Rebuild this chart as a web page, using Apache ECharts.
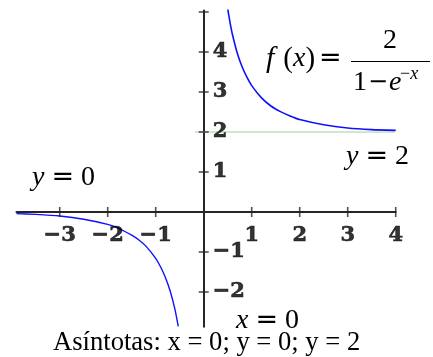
<!DOCTYPE html>
<html>
<head>
<meta charset="utf-8">
<script src="https://cdn.jsdelivr.net/npm/echarts@6/dist/echarts.min.js"></script>
<style>
  html, body { margin: 0; padding: 0; background: #ffffff; }
  #chart { width: 433px; height: 357px; }
</style>
</head>
<body>
<div id="chart"></div>
<script>
// Branch of f(x) for x > 0 (above the asymptote y = 2)
const rightX = [0.5, 0.55, 0.6, 0.7, 0.8, 0.9, 1.0, 1.2, 1.4, 1.6, 1.8, 2.0, 2.5, 3.0, 3.5, 4.0];
const rightY = [5.08, 4.73, 4.43, 3.97, 3.63, 3.37, 3.16, 2.86, 2.65, 2.51, 2.40, 2.31, 2.18, 2.10, 2.06, 2.04];

// Branch of f(x) for x < 0 (below the asymptote y = 0)
const leftX = [-3.9, -3.5, -3.0, -2.5, -2.0, -1.75, -1.5, -1.35, -1.2, -1.0, -0.9, -0.8, -0.7, -0.6, -0.53];
const leftY = [-0.04, -0.06, -0.10, -0.18, -0.31, -0.42, -0.58, -0.70, -0.86, -1.16, -1.37, -1.63, -1.97, -2.43, -2.86];

// Horizontal asymptote y = 2
const asymptoteX = [-0.18, 3.98];
const asymptoteY = [2, 2];

// Axis ranges, tick marks and tick labels
const xRange = [-3.9, 4];
const yRange = [-2.87, 5.04];
const xTickValues = [-3, -2, -1, 1, 2, 3, 4];
const yTickValues = [-2, -1, 1, 2, 3, 4, 5];
const yLabelValues = [-2, -1, 1, 2, 3, 4];

const pairs = (xs, ys) => xs.map((x, i) => [x, ys[i]]);
const minus = v => (v < 0 ? '\u2212' + Math.abs(v) : String(v));

const axisColor = '#262626';
const tickFont = {
  fontFamily: 'DejaVu Serif', fontWeight: 'bold', fontSize: 21, color: '#000',
  textBorderColor: '#000', textBorderWidth: 0.6
};
const serif = '"Liberation Serif"';
const mathRich = {
  i: { fontFamily: 'Liberation Serif', fontStyle: 'italic', fontSize: 28, color: '#000' },
  fi: { fontFamily: 'Liberation Serif', fontStyle: 'italic', fontSize: 30, color: '#000', padding: [0, 9, 0, 0] },
  r: { fontFamily: 'Liberation Serif', fontSize: 28, color: '#000' },
  p: { fontFamily: 'Liberation Serif', fontSize: 29, color: '#000' },
  eq: { fontFamily: 'DejaVu Sans', fontSize: 27, color: '#000', padding: [0, 7, 0, 7] },
  eqf: { fontFamily: 'DejaVu Sans', fontSize: 27, color: '#000', padding: [0, 0, 0, 4] },
  m: { fontFamily: 'DejaVu Sans', fontSize: 24, color: '#000', padding: [0, 1, 0, 1] }
};

const chart = echarts.init(document.getElementById('chart'), null, { renderer: 'canvas' });

chart.setOption({
  backgroundColor: '#ffffff',
  animation: false,
  grid: { left: 16.5, right: 37.3, top: 10.4, bottom: 30.2, containLabel: false },
  xAxis: {
    type: 'value', min: xRange[0], max: xRange[1],
    axisLine: { show: true, onZero: true, lineStyle: { color: axisColor, width: 2 } },
    axisTick: { show: false }, axisLabel: { show: false }, splitLine: { show: false }
  },
  yAxis: {
    type: 'value', min: yRange[0], max: yRange[1],
    axisLine: { show: true, onZero: true, lineStyle: { color: axisColor, width: 2 } },
    axisTick: { show: false }, axisLabel: { show: false }, splitLine: { show: false }
  },
  series: [
    {
      name: 'y = 2', type: 'line',
      data: pairs(asymptoteX, asymptoteY), showSymbol: false, silent: true,
      lineStyle: { color: '#9ed09e', width: 1 }, z: 3
    },
    {
      name: 'f(x) x>0', type: 'line',
      data: pairs(rightX, rightY), showSymbol: false, smooth: 0.2, silent: true,
      lineStyle: { color: '#1010ff', width: 1.6 }, z: 4
    },
    {
      name: 'f(x) x<0', type: 'line',
      data: pairs(leftX, leftY), showSymbol: false, smooth: 0.2, silent: true,
      lineStyle: { color: '#1010ff', width: 1.4 }, z: 4
    },
    // x-axis tick marks crossing the axis, with labels underneath
    {
      name: 'x ticks', type: 'scatter', silent: true, z: 5,
      data: xTickValues.map(v => [v, 0]),
      symbol: 'rect', symbolSize: [1.6, 10], itemStyle: { color: axisColor },
      label: Object.assign({ show: true, position: 'bottom', distance: 8,
        formatter: p => minus(p.value[0]) }, tickFont)
    },
    // y-axis tick marks crossing the axis, with labels to the right
    {
      name: 'y ticks', type: 'scatter', silent: true, z: 5,
      data: yTickValues.map(v => [0, v]),
      symbol: 'rect', symbolSize: [10, 1.6], itemStyle: { color: axisColor },
      label: Object.assign({ show: true, position: 'right', distance: 4,
        formatter: p => (yLabelValues.indexOf(p.value[1]) >= 0 ? minus(p.value[1]) : '') }, tickFont)
    }
  ],
  graphic: [
    // y = 0
    { type: 'text', left: 32, top: 164, style: { text: '{i|y}{eq|=}{r|0}', rich: mathRich } },
    // y = 2
    { type: 'text', left: 346, top: 143, style: { text: '{i|y}{eq|=}{r|2}', rich: mathRich } },
    // x = 0
    { type: 'text', left: 236, top: 307, style: { text: '{i|x}{eq|=}{r|0}', rich: mathRich } },
    // f(x) = 2 / (1 − e^−x)
    { type: 'text', left: 266, top: 44, style: { text: '{fi|f}{p|(}{i|x}{p|)}{eqf|=}', rich: mathRich } },
    { type: 'text', left: 383, top: 27, style: { text: '2', font: '28px ' + serif, fill: '#000' } },
    { type: 'line', shape: { x1: 351, y1: 61.5, x2: 430, y2: 61.5 }, style: { stroke: '#000', lineWidth: 1.2 } },
    { type: 'text', left: 353, top: 69, style: { text: '{r|1}{m|\u2212}{i|e}', rich: mathRich } },
    { type: 'text', left: 400, top: 65, style: { text: '\u2212{i|x}', font: '18px ' + serif, fill: '#000',
      rich: { i: { fontFamily: 'Liberation Serif', fontStyle: 'italic', fontSize: 18 } } } },
    // caption
    { type: 'text', left: 53, top: 330, style: { text: 'As\u00edntotas: x = 0; y = 0; y = 2', font: '26.6px ' + serif, fill: '#000' } }
  ]
});
</script>
</body>
</html>
